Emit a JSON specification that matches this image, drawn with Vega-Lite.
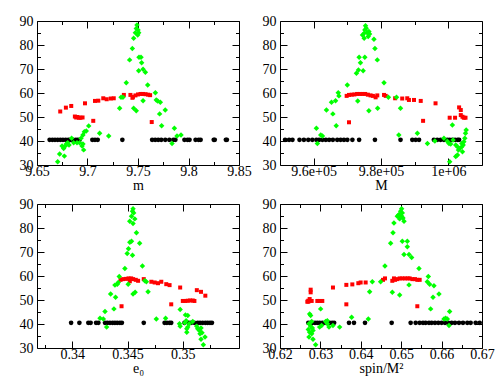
{
  "$schema": "https://vega.github.io/schema/vega-lite/v6.json",
  "background": "white",
  "padding": {"left": 18, "top": 13, "right": 5, "bottom": 5},
  "columns": 2,
  "spacing": {"row": 39, "column": 41},
  "bounds": "flush",
  "config": {
    "font": "Liberation Serif, Times New Roman, DejaVu Serif, serif",
    "view": {"stroke": "#000", "strokeWidth": 1},
    "axis": {"labelFont": "Liberation Serif, Times New Roman, DejaVu Serif, serif", "labelFontSize": 14, "labelColor": "#000", "titleFont": "Liberation Serif, Times New Roman, DejaVu Serif, serif", "titleFontSize": 14, "titleFontWeight": "normal", "titleColor": "#000", "tickColor": "#000", "tickWidth": 1, "domain": false, "grid": false, "labelFlush": false, "labelOverlap": false}
  },
  "datasets": {
    "d1": [
      {"c":"k","x":9.6625,"y":40.5},{"c":"k","x":9.6652,"y":40.5},{"c":"k","x":9.6678,"y":40.5},{"c":"k","x":9.6705,"y":40.5},{"c":"k","x":9.6731,"y":40.5},{"c":"k","x":9.6757,"y":40.5},{"c":"k","x":9.6784,"y":40.5},{"c":"k","x":9.681,"y":40.5},{"c":"k","x":9.683,"y":40.5},{"c":"k","x":9.6856,"y":40.5},{"c":"k","x":9.6883,"y":40.5},{"c":"k","x":9.6903,"y":40.5},{"c":"k","x":9.6922,"y":40.5},{"c":"k","x":9.7048,"y":40.5},{"c":"k","x":9.7074,"y":40.5},{"c":"k","x":9.7101,"y":40.5},{"c":"k","x":9.7345,"y":40.5},{"c":"k","x":9.764,"y":40.5},{"c":"k","x":9.767,"y":40.5},{"c":"k","x":9.77,"y":40.5},{"c":"k","x":9.773,"y":40.5},{"c":"k","x":9.777,"y":40.5},{"c":"k","x":9.781,"y":40.5},{"c":"k","x":9.785,"y":40.5},{"c":"k","x":9.787,"y":40.5},{"c":"k","x":9.796,"y":40.5},{"c":"k","x":9.799,"y":40.5},{"c":"k","x":9.801,"y":40.5},{"c":"k","x":9.807,"y":40.5},{"c":"k","x":9.81,"y":40.5},{"c":"k","x":9.812,"y":40.5},{"c":"k","x":9.825,"y":40.5},{"c":"k","x":9.826,"y":40.5},{"c":"k","x":9.837,"y":40.5},{"c":"k","x":9.838,"y":40.5},
      {"c":"r","x":9.673,"y":52.3},{"c":"r","x":9.6786,"y":53.9},{"c":"r","x":9.6839,"y":54.6},{"c":"r","x":9.6875,"y":50.2},{"c":"r","x":9.6888,"y":49.8},{"c":"r","x":9.69,"y":50.0},{"c":"r","x":9.6915,"y":49.7},{"c":"r","x":9.693,"y":49.7},{"c":"r","x":9.6951,"y":49.8},{"c":"r","x":9.6975,"y":55.7},{"c":"r","x":9.7057,"y":48.4},{"c":"r","x":9.7074,"y":56.7},{"c":"r","x":9.7107,"y":56.8},{"c":"r","x":9.7156,"y":57.8},{"c":"r","x":9.719,"y":57.4},{"c":"r","x":9.723,"y":57.7},{"c":"r","x":9.726,"y":57.8},{"c":"r","x":9.736,"y":59.2},{"c":"r","x":9.7425,"y":59.2},{"c":"r","x":9.745,"y":58.4},{"c":"r","x":9.7475,"y":59.0},{"c":"r","x":9.75,"y":59.4},{"c":"r","x":9.7525,"y":59.6},{"c":"r","x":9.755,"y":59.6},{"c":"r","x":9.7575,"y":59.5},{"c":"r","x":9.76,"y":59.3},{"c":"r","x":9.762,"y":59.1},{"c":"r","x":9.7445,"y":58.0},{"c":"r","x":9.7636,"y":47.9},
      {"c":"g","x":9.6705,"y":31.4},{"c":"g","x":9.6724,"y":34.6},{"c":"g","x":9.6771,"y":33.7},{"c":"g","x":9.6748,"y":37.9},{"c":"g","x":9.6764,"y":36.9},{"c":"g","x":9.678,"y":37.9},{"c":"g","x":9.679,"y":38.8},{"c":"g","x":9.6804,"y":39.3},{"c":"g","x":9.6817,"y":38.3},{"c":"g","x":9.6843,"y":41.1},{"c":"g","x":9.6863,"y":39.3},{"c":"g","x":9.6896,"y":39.3},{"c":"g","x":9.6922,"y":39.3},{"c":"g","x":9.6936,"y":41.1},{"c":"g","x":9.6946,"y":37.9},{"c":"g","x":9.6955,"y":38.8},{"c":"g","x":9.6962,"y":36.3},{"c":"g","x":9.6955,"y":42.5},{"c":"g","x":9.6969,"y":43.9},{"c":"g","x":9.6988,"y":44.2},{"c":"g","x":9.7012,"y":46.3},{"c":"g","x":9.712,"y":43.2},{"c":"g","x":9.721,"y":42.1},{"c":"g","x":9.7318,"y":53.6},{"c":"g","x":9.7332,"y":58.2},{"c":"g","x":9.7351,"y":58.2},{"c":"g","x":9.7384,"y":64.3},{"c":"g","x":9.7417,"y":73.8},{"c":"g","x":9.7444,"y":78.5},{"c":"g","x":9.7457,"y":53.6},{"c":"g","x":9.7483,"y":52.6},{"c":"g","x":9.7457,"y":82.8},{"c":"g","x":9.7474,"y":85.1},{"c":"g","x":9.7483,"y":86.9},{"c":"g","x":9.749,"y":88.3},{"c":"g","x":9.7497,"y":84.2},{"c":"g","x":9.7507,"y":85.1},{"c":"g","x":9.75,"y":86.3},{"c":"g","x":9.751,"y":74.9},{"c":"g","x":9.753,"y":74.9},{"c":"g","x":9.7536,"y":72.6},{"c":"g","x":9.755,"y":69.9},{"c":"g","x":9.7507,"y":69.3},{"c":"g","x":9.7573,"y":68.6},{"c":"g","x":9.755,"y":56.8},{"c":"g","x":9.7596,"y":63.3},{"c":"g","x":9.7672,"y":60.1},{"c":"g","x":9.7681,"y":57.1},{"c":"g","x":9.7695,"y":56.7},{"c":"g","x":9.7721,"y":56.1},{"c":"g","x":9.7714,"y":51.3},{"c":"g","x":9.7734,"y":46.4},{"c":"g","x":9.777,"y":52.9},{"c":"g","x":9.7837,"y":39.0},{"c":"g","x":9.786,"y":45.3},{"c":"g","x":9.7886,"y":42.1},{"c":"g","x":9.7926,"y":42.5}
    ],
    "d2": [
      {"c":"k","x":951500,"y":40.5},{"c":"k","x":952700,"y":40.5},{"c":"k","x":953700,"y":40.5},{"c":"k","x":955800,"y":40.5},{"c":"k","x":957100,"y":40.5},{"c":"k","x":958400,"y":40.5},{"c":"k","x":959600,"y":40.5},{"c":"k","x":960800,"y":40.5},{"c":"k","x":961600,"y":40.5},{"c":"k","x":962600,"y":40.5},{"c":"k","x":963600,"y":40.5},{"c":"k","x":964600,"y":40.5},{"c":"k","x":965700,"y":40.5},{"c":"k","x":967000,"y":40.5},{"c":"k","x":968000,"y":40.5},{"c":"k","x":969000,"y":40.5},{"c":"k","x":970000,"y":40.5},{"c":"k","x":971500,"y":40.5},{"c":"k","x":973500,"y":40.5},{"c":"k","x":978200,"y":40.5},{"c":"k","x":985800,"y":40.5},{"c":"k","x":989300,"y":40.5},{"c":"k","x":990300,"y":40.5},{"c":"k","x":991300,"y":40.5},{"c":"k","x":995700,"y":40.5},{"c":"k","x":996700,"y":40.5},{"c":"k","x":997700,"y":40.5},{"c":"k","x":998700,"y":40.5},{"c":"k","x":999700,"y":40.5},{"c":"k","x":1000400,"y":40.5},{"c":"k","x":1001200,"y":40.5},{"c":"k","x":1002000,"y":40.5},{"c":"k","x":1002800,"y":40.5},{"c":"k","x":1003200,"y":40.5},
      {"c":"r","x":970500,"y":47.8},{"c":"r","x":969800,"y":58.8},{"c":"r","x":970500,"y":59.2},{"c":"r","x":971300,"y":59.3},{"c":"r","x":972100,"y":59.4},{"c":"r","x":972900,"y":59.6},{"c":"r","x":973700,"y":59.6},{"c":"r","x":974500,"y":59.6},{"c":"r","x":975300,"y":59.6},{"c":"r","x":976100,"y":59.3},{"c":"r","x":976900,"y":59.0},{"c":"r","x":977600,"y":58.8},{"c":"r","x":978400,"y":58.2},{"c":"r","x":978900,"y":59.0},{"c":"r","x":980900,"y":59.2},{"c":"r","x":981400,"y":58.8},{"c":"r","x":984200,"y":57.8},{"c":"r","x":986300,"y":57.7},{"c":"r","x":987800,"y":57.8},{"c":"r","x":988300,"y":57.1},{"c":"r","x":989800,"y":57.1},{"c":"r","x":991800,"y":56.7},{"c":"r","x":992500,"y":48.4},{"c":"r","x":996200,"y":55.7},{"c":"r","x":1000400,"y":49.7},{"c":"r","x":1002000,"y":49.7},{"c":"r","x":1003200,"y":54.0},{"c":"r","x":1003700,"y":52.9},{"c":"r","x":1003700,"y":50.8},{"c":"r","x":1004200,"y":50.1},{"c":"r","x":1004600,"y":49.7},{"c":"r","x":1005100,"y":49.7},
      {"c":"g","x":960800,"y":45.3},{"c":"g","x":961100,"y":39.0},{"c":"g","x":962100,"y":42.5},{"c":"g","x":962600,"y":42.1},{"c":"g","x":963800,"y":52.9},{"c":"g","x":965300,"y":56.1},{"c":"g","x":965700,"y":51.3},{"c":"g","x":966500,"y":56.8},{"c":"g","x":966700,"y":46.4},{"c":"g","x":967300,"y":60.1},{"c":"g","x":967500,"y":58.8},{"c":"g","x":970000,"y":63.3},{"c":"g","x":972700,"y":68.2},{"c":"g","x":973300,"y":69.6},{"c":"g","x":973500,"y":74.9},{"c":"g","x":973900,"y":72.6},{"c":"g","x":974700,"y":69.3},{"c":"g","x":973100,"y":56.7},{"c":"g","x":975200,"y":74.9},{"c":"g","x":974500,"y":84.2},{"c":"g","x":975000,"y":84.9},{"c":"g","x":975200,"y":86.3},{"c":"g","x":975400,"y":88.0},{"c":"g","x":975600,"y":87.0},{"c":"g","x":975900,"y":85.1},{"c":"g","x":976400,"y":85.6},{"c":"g","x":976600,"y":84.6},{"c":"g","x":976200,"y":83.5},{"c":"g","x":975000,"y":82.8},{"c":"g","x":977900,"y":82.4},{"c":"g","x":978200,"y":78.5},{"c":"g","x":978900,"y":73.8},{"c":"g","x":976400,"y":52.6},{"c":"g","x":979000,"y":53.6},{"c":"g","x":980900,"y":64.3},{"c":"g","x":982200,"y":58.2},{"c":"g","x":984600,"y":58.2},{"c":"g","x":985800,"y":53.6},{"c":"g","x":985300,"y":42.5},{"c":"g","x":990800,"y":43.2},{"c":"g","x":993800,"y":39.0},{"c":"g","x":996000,"y":40.0},{"c":"g","x":998700,"y":41.1},{"c":"g","x":999700,"y":39.9},{"c":"g","x":1000200,"y":39.0},{"c":"g","x":1000700,"y":38.7},{"c":"g","x":1001200,"y":46.7},{"c":"g","x":1001400,"y":40.4},{"c":"g","x":1002200,"y":38.3},{"c":"g","x":1002700,"y":37.6},{"c":"g","x":1003000,"y":36.2},{"c":"g","x":1003400,"y":36.9},{"c":"g","x":1004000,"y":37.6},{"c":"g","x":1004400,"y":38.3},{"c":"g","x":1004600,"y":39.7},{"c":"g","x":1004900,"y":41.1},{"c":"g","x":1005100,"y":43.2},{"c":"g","x":1005300,"y":44.6},{"c":"g","x":1002200,"y":33.5},{"c":"g","x":1002700,"y":34.2},{"c":"g","x":1000400,"y":31.4},{"c":"g","x":1004000,"y":39.0},{"c":"g","x":1004200,"y":35.5}
    ],
    "d3": [
      {"c":"k","x":0.33989,"y":40.5},{"c":"k","x":0.34064,"y":40.5},{"c":"k","x":0.34145,"y":40.5},{"c":"k","x":0.34166,"y":40.5},{"c":"k","x":0.34215,"y":40.5},{"c":"k","x":0.34236,"y":40.5},{"c":"k","x":0.34296,"y":40.5},{"c":"k","x":0.34317,"y":40.5},{"c":"k","x":0.34341,"y":40.5},{"c":"k","x":0.34365,"y":40.5},{"c":"k","x":0.34386,"y":40.5},{"c":"k","x":0.34407,"y":40.5},{"c":"k","x":0.34431,"y":40.5},{"c":"k","x":0.34449,"y":40.5},{"c":"k","x":0.34647,"y":40.5},{"c":"k","x":0.34836,"y":40.5},{"c":"k","x":0.34857,"y":40.5},{"c":"k","x":0.34881,"y":40.5},{"c":"k","x":0.34896,"y":40.5},{"c":"k","x":0.35016,"y":40.5},{"c":"k","x":0.35055,"y":40.5},{"c":"k","x":0.35076,"y":40.5},{"c":"k","x":0.35106,"y":40.5},{"c":"k","x":0.35136,"y":40.5},{"c":"k","x":0.35157,"y":40.5},{"c":"k","x":0.35181,"y":40.5},{"c":"k","x":0.35205,"y":40.5},{"c":"k","x":0.35226,"y":40.5},{"c":"k","x":0.35247,"y":40.5},{"c":"k","x":0.35265,"y":40.5},
      {"c":"r","x":0.34446,"y":47.4},{"c":"r","x":0.34437,"y":58.4},{"c":"r","x":0.34461,"y":58.7},{"c":"r","x":0.34485,"y":58.8},{"c":"r","x":0.34509,"y":59.0},{"c":"r","x":0.34533,"y":59.0},{"c":"r","x":0.34551,"y":58.7},{"c":"r","x":0.34575,"y":58.4},{"c":"r","x":0.34596,"y":58.0},{"c":"r","x":0.34521,"y":57.8},{"c":"r","x":0.34647,"y":58.7},{"c":"r","x":0.34716,"y":57.6},{"c":"r","x":0.34746,"y":57.3},{"c":"r","x":0.34776,"y":57.0},{"c":"r","x":0.34806,"y":57.6},{"c":"r","x":0.34851,"y":56.6},{"c":"r","x":0.34881,"y":56.2},{"c":"r","x":0.34896,"y":48.2},{"c":"r","x":0.34977,"y":55.2},{"c":"r","x":0.35001,"y":49.6},{"c":"r","x":0.35025,"y":49.6},{"c":"r","x":0.35046,"y":49.7},{"c":"r","x":0.35067,"y":49.8},{"c":"r","x":0.35091,"y":49.8},{"c":"r","x":0.35106,"y":49.6},{"c":"r","x":0.35128,"y":54.1},{"c":"r","x":0.35166,"y":53.4},{"c":"r","x":0.35205,"y":51.8},
      {"c":"g","x":0.34251,"y":42.4},{"c":"g","x":0.34281,"y":42.1},{"c":"g","x":0.34311,"y":38.7},{"c":"g","x":0.34296,"y":45.2},{"c":"g","x":0.34347,"y":52.5},{"c":"g","x":0.34377,"y":46.3},{"c":"g","x":0.34392,"y":51.1},{"c":"g","x":0.34386,"y":56.2},{"c":"g","x":0.34407,"y":56.6},{"c":"g","x":0.34416,"y":57.3},{"c":"g","x":0.34425,"y":59.8},{"c":"g","x":0.34476,"y":63.1},{"c":"g","x":0.34497,"y":69.4},{"c":"g","x":0.34509,"y":71.4},{"c":"g","x":0.34521,"y":74.1},{"c":"g","x":0.34536,"y":74.5},{"c":"g","x":0.34545,"y":68.6},{"c":"g","x":0.34506,"y":56.6},{"c":"g","x":0.3455,"y":52.5},{"c":"g","x":0.34569,"y":53.2},{"c":"g","x":0.3452,"y":82.8},{"c":"g","x":0.34536,"y":84.9},{"c":"g","x":0.34545,"y":87.0},{"c":"g","x":0.3455,"y":88.0},{"c":"g","x":0.34556,"y":86.3},{"c":"g","x":0.34566,"y":83.8},{"c":"g","x":0.3455,"y":81.9},{"c":"g","x":0.34581,"y":78.0},{"c":"g","x":0.3461,"y":73.6},{"c":"g","x":0.34635,"y":64.2},{"c":"g","x":0.34671,"y":57.6},{"c":"g","x":0.34656,"y":58.0},{"c":"g","x":0.34686,"y":53.4},{"c":"g","x":0.34761,"y":42.1},{"c":"g","x":0.34845,"y":42.4},{"c":"g","x":0.34977,"y":46.0},{"c":"g","x":0.34971,"y":40.1},{"c":"g","x":0.34977,"y":39.1},{"c":"g","x":0.35025,"y":43.8},{"c":"g","x":0.35046,"y":43.5},{"c":"g","x":0.35031,"y":41.4},{"c":"g","x":0.35019,"y":40.5},{"c":"g","x":0.35046,"y":38.7},{"c":"g","x":0.35037,"y":36.6},{"c":"g","x":0.3506,"y":40.1},{"c":"g","x":0.35037,"y":38.0},{"c":"g","x":0.35091,"y":41.0},{"c":"g","x":0.35127,"y":39.1},{"c":"g","x":0.35136,"y":38.0},{"c":"g","x":0.35151,"y":37.3},{"c":"g","x":0.35166,"y":38.3},{"c":"g","x":0.35175,"y":36.4},{"c":"g","x":0.35157,"y":35.9},{"c":"g","x":0.35166,"y":33.6},{"c":"g","x":0.35202,"y":34.6},{"c":"g","x":0.35187,"y":31.4}
    ],
    "d4": [
      {"c":"k","x":0.62701,"y":40.5},{"c":"k","x":0.62759,"y":40.5},{"c":"k","x":0.628,"y":40.5},{"c":"k","x":0.62866,"y":40.5},{"c":"k","x":0.62924,"y":40.5},{"c":"k","x":0.62982,"y":40.5},{"c":"k","x":0.63047,"y":40.5},{"c":"k","x":0.63114,"y":40.5},{"c":"k","x":0.63171,"y":40.5},{"c":"k","x":0.6323,"y":40.5},{"c":"k","x":0.6329,"y":40.5},{"c":"k","x":0.6334,"y":40.5},{"c":"k","x":0.63708,"y":40.5},{"c":"k","x":0.63831,"y":40.5},{"c":"k","x":0.64104,"y":40.5},{"c":"k","x":0.64764,"y":40.5},{"c":"k","x":0.65234,"y":40.5},{"c":"k","x":0.65358,"y":40.5},{"c":"k","x":0.65457,"y":40.5},{"c":"k","x":0.6554,"y":40.5},{"c":"k","x":0.65605,"y":40.5},{"c":"k","x":0.65688,"y":40.5},{"c":"k","x":0.65754,"y":40.5},{"c":"k","x":0.65836,"y":40.5},{"c":"k","x":0.65919,"y":40.5},{"c":"k","x":0.66001,"y":40.5},{"c":"k","x":0.66084,"y":40.5},{"c":"k","x":0.66166,"y":40.5},{"c":"k","x":0.66249,"y":40.5},{"c":"k","x":0.66331,"y":40.5},{"c":"k","x":0.6643,"y":40.5},{"c":"k","x":0.66529,"y":40.5},{"c":"k","x":0.66636,"y":40.5},{"c":"k","x":0.66719,"y":40.5},{"c":"k","x":0.66843,"y":40.5},{"c":"k","x":0.66942,"y":40.5},
      {"c":"r","x":0.62701,"y":49.7},{"c":"r","x":0.62734,"y":50.4},{"c":"r","x":0.62759,"y":53.2},{"c":"r","x":0.62759,"y":54.3},{"c":"r","x":0.62701,"y":49.3},{"c":"r","x":0.62784,"y":49.6},{"c":"r","x":0.62676,"y":49.3},{"c":"r","x":0.62924,"y":49.6},{"c":"r","x":0.62982,"y":49.6},{"c":"r","x":0.63047,"y":49.6},{"c":"r","x":0.63311,"y":55.2},{"c":"r","x":0.63642,"y":48.2},{"c":"r","x":0.63642,"y":56.3},{"c":"r","x":0.6379,"y":56.5},{"c":"r","x":0.63939,"y":57.0},{"c":"r","x":0.63996,"y":57.3},{"c":"r","x":0.6412,"y":57.3},{"c":"r","x":0.64549,"y":58.4},{"c":"r","x":0.64599,"y":59.0},{"c":"r","x":0.6478,"y":58.0},{"c":"r","x":0.64846,"y":58.4},{"c":"r","x":0.64904,"y":58.7},{"c":"r","x":0.64962,"y":59.0},{"c":"r","x":0.65028,"y":59.0},{"c":"r","x":0.65094,"y":59.0},{"c":"r","x":0.6516,"y":59.0},{"c":"r","x":0.65209,"y":59.0},{"c":"r","x":0.65276,"y":58.7},{"c":"r","x":0.65341,"y":58.7},{"c":"r","x":0.65399,"y":58.4},{"c":"r","x":0.65457,"y":58.4},{"c":"r","x":0.64821,"y":59.0},{"c":"r","x":0.65399,"y":47.4},
      {"c":"g","x":0.62734,"y":44.2},{"c":"g","x":0.62759,"y":43.5},{"c":"g","x":0.62784,"y":41.0},{"c":"g","x":0.62718,"y":40.1},{"c":"g","x":0.62759,"y":39.1},{"c":"g","x":0.628,"y":38.3},{"c":"g","x":0.62701,"y":37.7},{"c":"g","x":0.62817,"y":37.3},{"c":"g","x":0.62734,"y":36.6},{"c":"g","x":0.62784,"y":35.9},{"c":"g","x":0.62718,"y":34.6},{"c":"g","x":0.62817,"y":33.6},{"c":"g","x":0.62882,"y":31.4},{"c":"g","x":0.63006,"y":46.3},{"c":"g","x":0.62981,"y":38.7},{"c":"g","x":0.63031,"y":39.4},{"c":"g","x":0.6313,"y":41.0},{"c":"g","x":0.63171,"y":41.4},{"c":"g","x":0.63213,"y":38.7},{"c":"g","x":0.63171,"y":40.1},{"c":"g","x":0.63311,"y":39.4},{"c":"g","x":0.63476,"y":38.7},{"c":"g","x":0.63773,"y":42.8},{"c":"g","x":0.64186,"y":42.1},{"c":"g","x":0.64219,"y":53.4},{"c":"g","x":0.64285,"y":57.6},{"c":"g","x":0.64491,"y":57.6},{"c":"g","x":0.64598,"y":64.2},{"c":"g","x":0.64739,"y":73.6},{"c":"g","x":0.64797,"y":78.0},{"c":"g","x":0.6478,"y":53.2},{"c":"g","x":0.64821,"y":82.1},{"c":"g","x":0.64904,"y":84.9},{"c":"g","x":0.64929,"y":85.2},{"c":"g","x":0.64945,"y":85.6},{"c":"g","x":0.64986,"y":87.0},{"c":"g","x":0.65011,"y":88.0},{"c":"g","x":0.65028,"y":86.3},{"c":"g","x":0.65044,"y":84.2},{"c":"g","x":0.65069,"y":82.8},{"c":"g","x":0.65011,"y":84.9},{"c":"g","x":0.64962,"y":83.8},{"c":"g","x":0.64962,"y":52.1},{"c":"g","x":0.65028,"y":74.5},{"c":"g","x":0.65151,"y":74.5},{"c":"g","x":0.65151,"y":72.2},{"c":"g","x":0.65069,"y":69.0},{"c":"g","x":0.65193,"y":69.0},{"c":"g","x":0.65259,"y":67.7},{"c":"g","x":0.65193,"y":56.3},{"c":"g","x":0.6544,"y":63.1},{"c":"g","x":0.65671,"y":59.8},{"c":"g","x":0.65646,"y":57.6},{"c":"g","x":0.65704,"y":56.6},{"c":"g","x":0.65811,"y":55.9},{"c":"g","x":0.65787,"y":51.1},{"c":"g","x":0.65729,"y":46.3},{"c":"g","x":0.65935,"y":52.5},{"c":"g","x":0.66059,"y":42.1},{"c":"g","x":0.661,"y":42.4},{"c":"g","x":0.66141,"y":42.1},{"c":"g","x":0.66183,"y":39.4},{"c":"g","x":0.66199,"y":45.2}
    ]
  },
  "concat": [
    {
      "width": 202, "height": 144,
      "data": {"name": "d1"},
      "layer": [
        {"transform": [{"filter": "datum.c=='k'"}], "mark": {"type": "circle", "size": 22, "color": "#000", "opacity": 1},
         "encoding": {
           "x": {"field": "x", "type": "quantitative", "scale": {"domain": [9.65, 9.85], "nice": false, "zero": false}, "axis": {"orient": "bottom", "values": [9.65, 9.7, 9.75, 9.8, 9.85], "format": ".2~f", "tickSize": -7, "labelPadding": 6, "title": "m", "titlePadding": 0}},
           "y": {"field": "y", "type": "quantitative", "scale": {"domain": [30, 90], "nice": false, "zero": false}, "axis": {"orient": "left", "values": [30, 40, 50, 60, 70, 80, 90], "tickSize": -7, "labelPadding": 11, "title": null}}}},
        {"transform": [{"filter": "datum.c=='r'"}], "mark": {"type": "square", "size": 16, "color": "#ff0000", "opacity": 1},
         "encoding": {
           "x": {"field": "x", "type": "quantitative", "scale": {"domain": [9.65, 9.85], "nice": false, "zero": false}, "axis": {"orient": "top", "values": [9.65, 9.7, 9.75, 9.8, 9.85], "tickSize": -7, "labels": false, "title": null}},
           "y": {"field": "y", "type": "quantitative", "scale": {"domain": [30, 90], "nice": false, "zero": false}, "axis": {"orient": "right", "values": [30, 40, 50, 60, 70, 80, 90], "tickSize": -7, "labels": false, "title": null}}}},
        {"transform": [{"filter": "datum.c=='g'"}], "mark": {"type": "point", "shape": "diamond", "filled": true, "size": 30, "color": "#00ff00", "opacity": 1},
         "encoding": {
           "x": {"field": "x", "type": "quantitative", "scale": {"domain": [9.65, 9.85], "nice": false, "zero": false}, "axis": {"orient": "bottom", "values": [9.675, 9.725, 9.775, 9.825], "tickSize": -3.5, "labels": false, "title": null}},
           "y": {"field": "y", "type": "quantitative", "scale": {"domain": [30, 90], "nice": false, "zero": false}, "axis": {"orient": "left", "values": [35, 45, 55, 65, 75, 85], "tickSize": -3.5, "labels": false, "title": null}}}},
        {"transform": [{"filter": "datum.c=='k'"}], "mark": {"type": "circle", "opacity": 0},
         "encoding": {
           "x": {"field": "x", "type": "quantitative", "scale": {"domain": [9.65, 9.85], "nice": false, "zero": false}, "axis": {"orient": "top", "values": [9.675, 9.725, 9.775, 9.825], "tickSize": -3.5, "labels": false, "title": null}},
           "y": {"field": "y", "type": "quantitative", "scale": {"domain": [30, 90], "nice": false, "zero": false}, "axis": {"orient": "right", "values": [35, 45, 55, 65, 75, 85], "tickSize": -3.5, "labels": false, "title": null}}}}
      ],
      "resolve": {"axis": {"x": "independent", "y": "independent"}}
    },
    {
      "width": 202, "height": 144,
      "data": {"name": "d2"},
      "layer": [
        {"transform": [{"filter": "datum.c=='k'"}], "mark": {"type": "circle", "size": 22, "color": "#000", "opacity": 1},
         "encoding": {
           "x": {"field": "x", "type": "quantitative", "scale": {"domain": [950000, 1010000], "nice": false, "zero": false}, "axis": {"orient": "bottom", "values": [960000, 980000, 1000000], "labelExpr": "datum.value == 1000000 ? '1e+06' : replace(format(datum.value, '.1e'), 'e+5', 'e+05')", "tickSize": -7, "labelPadding": 6, "title": "M", "titlePadding": 0}},
           "y": {"field": "y", "type": "quantitative", "scale": {"domain": [30, 90], "nice": false, "zero": false}, "axis": {"orient": "left", "values": [30, 40, 50, 60, 70, 80, 90], "tickSize": -7, "labelPadding": 11, "title": null}}}},
        {"transform": [{"filter": "datum.c=='r'"}], "mark": {"type": "square", "size": 16, "color": "#ff0000", "opacity": 1},
         "encoding": {
           "x": {"field": "x", "type": "quantitative", "scale": {"domain": [950000, 1010000], "nice": false, "zero": false}, "axis": {"orient": "top", "values": [960000, 980000, 1000000], "tickSize": -7, "labels": false, "title": null}},
           "y": {"field": "y", "type": "quantitative", "scale": {"domain": [30, 90], "nice": false, "zero": false}, "axis": {"orient": "right", "values": [30, 40, 50, 60, 70, 80, 90], "tickSize": -7, "labels": false, "title": null}}}},
        {"transform": [{"filter": "datum.c=='g'"}], "mark": {"type": "point", "shape": "diamond", "filled": true, "size": 30, "color": "#00ff00", "opacity": 1},
         "encoding": {
           "x": {"field": "x", "type": "quantitative", "scale": {"domain": [950000, 1010000], "nice": false, "zero": false}, "axis": {"orient": "bottom", "values": [970000, 990000], "tickSize": -3.5, "labels": false, "title": null}},
           "y": {"field": "y", "type": "quantitative", "scale": {"domain": [30, 90], "nice": false, "zero": false}, "axis": {"orient": "left", "values": [35, 45, 55, 65, 75, 85], "tickSize": -3.5, "labels": false, "title": null}}}},
        {"transform": [{"filter": "datum.c=='k'"}], "mark": {"type": "circle", "opacity": 0},
         "encoding": {
           "x": {"field": "x", "type": "quantitative", "scale": {"domain": [950000, 1010000], "nice": false, "zero": false}, "axis": {"orient": "top", "values": [970000, 990000], "tickSize": -3.5, "labels": false, "title": null}},
           "y": {"field": "y", "type": "quantitative", "scale": {"domain": [30, 90], "nice": false, "zero": false}, "axis": {"orient": "right", "values": [35, 45, 55, 65, 75, 85], "tickSize": -3.5, "labels": false, "title": null}}}}
      ],
      "resolve": {"axis": {"x": "independent", "y": "independent"}}
    },
    {
      "width": 202, "height": 144,
      "data": {"name": "d3"},
      "layer": [
        {"transform": [{"filter": "datum.c=='k'"}], "mark": {"type": "circle", "size": 22, "color": "#000", "opacity": 1},
         "encoding": {
           "x": {"field": "x", "type": "quantitative", "scale": {"domain": [0.3368, 0.3551], "nice": false, "zero": false}, "axis": {"orient": "bottom", "values": [0.34, 0.345, 0.35], "format": ".3~f", "tickSize": -7, "labelPadding": 6, "title": "e₀", "titlePadding": 0}},
           "y": {"field": "y", "type": "quantitative", "scale": {"domain": [30, 90], "nice": false, "zero": false}, "axis": {"orient": "left", "values": [30, 40, 50, 60, 70, 80, 90], "tickSize": -7, "labelPadding": 11, "title": null}}}},
        {"transform": [{"filter": "datum.c=='r'"}], "mark": {"type": "square", "size": 16, "color": "#ff0000", "opacity": 1},
         "encoding": {
           "x": {"field": "x", "type": "quantitative", "scale": {"domain": [0.3368, 0.3551], "nice": false, "zero": false}, "axis": {"orient": "top", "values": [0.34, 0.345, 0.35], "tickSize": -7, "labels": false, "title": null}},
           "y": {"field": "y", "type": "quantitative", "scale": {"domain": [30, 90], "nice": false, "zero": false}, "axis": {"orient": "right", "values": [30, 40, 50, 60, 70, 80, 90], "tickSize": -7, "labels": false, "title": null}}}},
        {"transform": [{"filter": "datum.c=='g'"}], "mark": {"type": "point", "shape": "diamond", "filled": true, "size": 30, "color": "#00ff00", "opacity": 1},
         "encoding": {
           "x": {"field": "x", "type": "quantitative", "scale": {"domain": [0.3368, 0.3551], "nice": false, "zero": false}, "axis": {"orient": "bottom", "values": [0.3375, 0.3425, 0.3475, 0.3525], "tickSize": -3.5, "labels": false, "title": null}},
           "y": {"field": "y", "type": "quantitative", "scale": {"domain": [30, 90], "nice": false, "zero": false}, "axis": {"orient": "left", "values": [35, 45, 55, 65, 75, 85], "tickSize": -3.5, "labels": false, "title": null}}}},
        {"transform": [{"filter": "datum.c=='k'"}], "mark": {"type": "circle", "opacity": 0},
         "encoding": {
           "x": {"field": "x", "type": "quantitative", "scale": {"domain": [0.3368, 0.3551], "nice": false, "zero": false}, "axis": {"orient": "top", "values": [0.3375, 0.3425, 0.3475, 0.3525], "tickSize": -3.5, "labels": false, "title": null}},
           "y": {"field": "y", "type": "quantitative", "scale": {"domain": [30, 90], "nice": false, "zero": false}, "axis": {"orient": "right", "values": [35, 45, 55, 65, 75, 85], "tickSize": -3.5, "labels": false, "title": null}}}}
      ],
      "resolve": {"axis": {"x": "independent", "y": "independent"}}
    },
    {
      "width": 202, "height": 144,
      "data": {"name": "d4"},
      "layer": [
        {"transform": [{"filter": "datum.c=='k'"}], "mark": {"type": "circle", "size": 22, "color": "#000", "opacity": 1},
         "encoding": {
           "x": {"field": "x", "type": "quantitative", "scale": {"domain": [0.62, 0.67], "nice": false, "zero": false}, "axis": {"orient": "bottom", "values": [0.62, 0.63, 0.64, 0.65, 0.66, 0.67], "format": ".2f", "tickSize": -7, "labelPadding": 6, "title": "spin/M²", "titlePadding": 0}},
           "y": {"field": "y", "type": "quantitative", "scale": {"domain": [30, 90], "nice": false, "zero": false}, "axis": {"orient": "left", "values": [30, 40, 50, 60, 70, 80, 90], "tickSize": -7, "labelPadding": 11, "title": null}}}},
        {"transform": [{"filter": "datum.c=='r'"}], "mark": {"type": "square", "size": 16, "color": "#ff0000", "opacity": 1},
         "encoding": {
           "x": {"field": "x", "type": "quantitative", "scale": {"domain": [0.62, 0.67], "nice": false, "zero": false}, "axis": {"orient": "top", "values": [0.62, 0.63, 0.64, 0.65, 0.66, 0.67], "tickSize": -7, "labels": false, "title": null}},
           "y": {"field": "y", "type": "quantitative", "scale": {"domain": [30, 90], "nice": false, "zero": false}, "axis": {"orient": "right", "values": [30, 40, 50, 60, 70, 80, 90], "tickSize": -7, "labels": false, "title": null}}}},
        {"transform": [{"filter": "datum.c=='g'"}], "mark": {"type": "point", "shape": "diamond", "filled": true, "size": 30, "color": "#00ff00", "opacity": 1},
         "encoding": {
           "x": {"field": "x", "type": "quantitative", "scale": {"domain": [0.62, 0.67], "nice": false, "zero": false}, "axis": {"orient": "bottom", "values": [0.625, 0.635, 0.645, 0.655, 0.665], "tickSize": -3.5, "labels": false, "title": null}},
           "y": {"field": "y", "type": "quantitative", "scale": {"domain": [30, 90], "nice": false, "zero": false}, "axis": {"orient": "left", "values": [35, 45, 55, 65, 75, 85], "tickSize": -3.5, "labels": false, "title": null}}}},
        {"transform": [{"filter": "datum.c=='k'"}], "mark": {"type": "circle", "opacity": 0},
         "encoding": {
           "x": {"field": "x", "type": "quantitative", "scale": {"domain": [0.62, 0.67], "nice": false, "zero": false}, "axis": {"orient": "top", "values": [0.625, 0.635, 0.645, 0.655, 0.665], "tickSize": -3.5, "labels": false, "title": null}},
           "y": {"field": "y", "type": "quantitative", "scale": {"domain": [30, 90], "nice": false, "zero": false}, "axis": {"orient": "right", "values": [35, 45, 55, 65, 75, 85], "tickSize": -3.5, "labels": false, "title": null}}}}
      ],
      "resolve": {"axis": {"x": "independent", "y": "independent"}}
    }
  ]
}
